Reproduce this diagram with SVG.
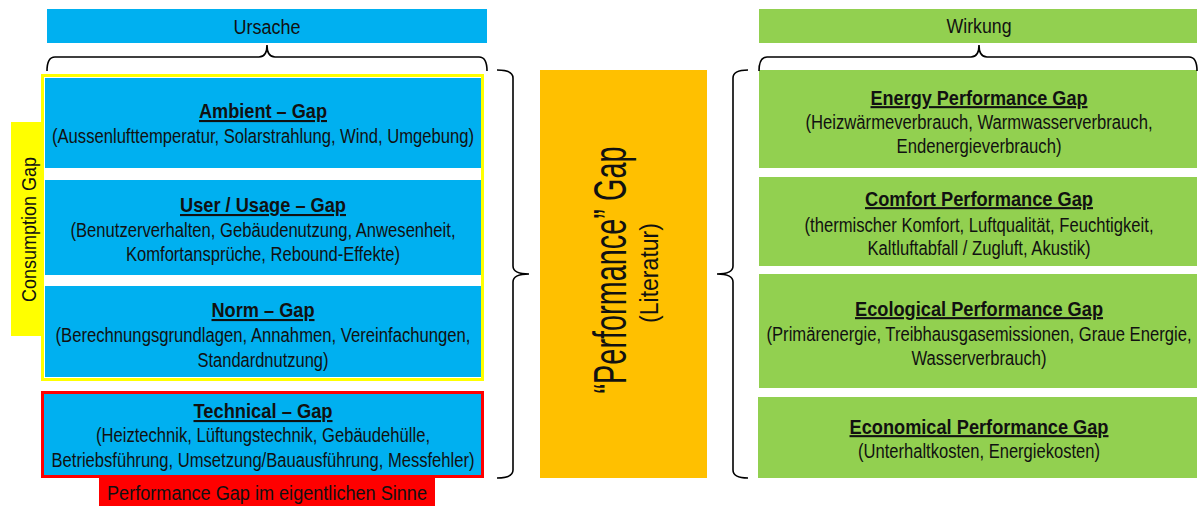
<svg xmlns="http://www.w3.org/2000/svg" width="1198" height="506" viewBox="0 0 1198 506">
<style>
text{font-family:"Liberation Sans",Arial,sans-serif;fill:#111;text-anchor:middle}
.t{font-size:21px;font-weight:bold;text-decoration:underline}
.s{font-size:20px}
.blue{fill:#00B0F0}
.green{fill:#92D050}
.brace{fill:none;stroke:#000;stroke-width:1.6}
</style>
<rect width="1198" height="506" fill="#fff"/>
<g id="ursache">
<rect class="blue" x="47" y="9" width="440" height="34"/>
<text class="s" x="267" y="34" textLength="67" lengthAdjust="spacingAndGlyphs">Ursache</text>
</g>
<g id="wirkung">
<rect class="green" x="759" y="9" width="438" height="34"/>
<text class="s" x="979" y="33" textLength="65" lengthAdjust="spacingAndGlyphs">Wirkung</text>
</g>
<g id="consumption-group">
<rect x="11" y="122" width="31" height="214" fill="#FFFF00"/>
<text transform="translate(36,229.5) rotate(-90)" textLength="145" lengthAdjust="spacingAndGlyphs" style="font-size:21px">Consumption Gap</text>
<rect x="42.5" y="75.5" width="440" height="304" fill="#fff" stroke="#FFFF00" stroke-width="3"/>
</g>
<g id="ambient">
<rect class="blue" x="45" y="78" width="436" height="90"/>
<text class="t" x="263" y="118" textLength="128" lengthAdjust="spacingAndGlyphs">Ambient – Gap</text>
<text class="s" x="263" y="143" textLength="422" lengthAdjust="spacingAndGlyphs">(Aussenlufttemperatur, Solarstrahlung, Wind, Umgebung)</text>
</g>
<g id="user">
<rect class="blue" x="45" y="180" width="436" height="95"/>
<text class="t" x="263" y="212" textLength="166" lengthAdjust="spacingAndGlyphs">User / Usage – Gap</text>
<text class="s" x="263" y="237" textLength="385" lengthAdjust="spacingAndGlyphs">(Benutzerverhalten, Gebäudenutzung, Anwesenheit,</text>
<text class="s" x="263" y="261" textLength="274" lengthAdjust="spacingAndGlyphs">Komfortansprüche, Rebound-Effekte)</text>
</g>
<g id="norm">
<rect class="blue" x="45" y="286" width="436" height="91"/>
<text class="t" x="263" y="317" textLength="103" lengthAdjust="spacingAndGlyphs">Norm – Gap</text>
<text class="s" x="263" y="342" textLength="415" lengthAdjust="spacingAndGlyphs">(Berechnungsgrundlagen, Annahmen, Vereinfachungen,</text>
<text class="s" x="263" y="367" textLength="131" lengthAdjust="spacingAndGlyphs">Standardnutzung)</text>
</g>
<g id="technical">
<rect class="blue" x="42.5" y="392.5" width="440" height="84" stroke="#FF0000" stroke-width="3"/>
<text class="t" x="263" y="418" textLength="139" lengthAdjust="spacingAndGlyphs">Technical – Gap</text>
<text class="s" x="263" y="442" textLength="334" lengthAdjust="spacingAndGlyphs">(Heiztechnik, Lüftungstechnik, Gebäudehülle,</text>
<text class="s" x="263" y="467" textLength="423" lengthAdjust="spacingAndGlyphs">Betriebsführung, Umsetzung/Bauausführung, Messfehler)</text>
</g>
<g id="performance-label">
<rect x="99" y="478" width="336" height="28" fill="#FF0000"/>
<text class="s" x="267" y="500" textLength="320" lengthAdjust="spacingAndGlyphs">Performance Gap im eigentlichen Sinne</text>
</g>
<g id="performance-gap">
<rect x="540" y="70" width="167" height="408" fill="#FFC000"/>
<text transform="translate(626,270) rotate(-90)" style="font-size:46px" textLength="247" lengthAdjust="spacingAndGlyphs">“Performance” Gap</text>
<text transform="translate(658,273) rotate(-90)" style="font-size:25px" textLength="100" lengthAdjust="spacingAndGlyphs">(Literatur)</text>
</g>
<g id="energy">
<rect class="green" x="759" y="70" width="438" height="98"/>
<g transform="translate(979,0) scale(0.8,1)">
<text class="t" x="0" y="105" textLength="271.25" lengthAdjust="spacingAndGlyphs">Energy Performance Gap</text>
<text class="s" x="0" y="129" textLength="433.75" lengthAdjust="spacingAndGlyphs">(Heizwärmeverbrauch, Warmwasserverbrauch,</text>
<text class="s" x="0" y="153" textLength="206.25" lengthAdjust="spacingAndGlyphs">Endenergieverbrauch)</text>
</g>
</g>
<g id="comfort">
<rect class="green" x="759" y="177" width="438" height="89"/>
<g transform="translate(979,0) scale(0.8,1)">
<text class="t" x="0" y="206" textLength="285" lengthAdjust="spacingAndGlyphs">Comfort Performance Gap</text>
<text class="s" x="0" y="232" textLength="436.25" lengthAdjust="spacingAndGlyphs">(thermischer Komfort, Luftqualität, Feuchtigkeit,</text>
<text class="s" x="0" y="255" textLength="278.75" lengthAdjust="spacingAndGlyphs">Kaltluftabfall / Zugluft, Akustik)</text>
</g>
</g>
<g id="ecological">
<rect class="green" x="759" y="274" width="438" height="114"/>
<g transform="translate(979,0) scale(0.8,1)">
<text class="t" x="0" y="316" textLength="310" lengthAdjust="spacingAndGlyphs">Ecological Performance Gap</text>
<text class="s" x="0" y="341" textLength="531.25" lengthAdjust="spacingAndGlyphs">(Primärenergie, Treibhausgasemissionen, Graue Energie,</text>
<text class="s" x="0" y="365" textLength="168.75" lengthAdjust="spacingAndGlyphs">Wasserverbrauch)</text>
</g>
</g>
<g id="economical">
<rect class="green" x="758" y="397" width="439" height="81"/>
<g transform="translate(979,0) scale(0.8,1)">
<text class="t" x="0" y="434" textLength="323.75" lengthAdjust="spacingAndGlyphs">Economical Performance Gap</text>
<text class="s" x="0" y="458" textLength="302.5" lengthAdjust="spacingAndGlyphs">(Unterhaltkosten, Energiekosten)</text>
</g>
</g>
<g id="connectors">
<path class="brace" d="M47,71 Q47,57 55,57 L259,57 Q267,57 267,45 Q267,57 275,57 L479,57 Q487,57 487,71"/>
<path class="brace" d="M759,71 Q759,57 767,57 L971,57 Q979,57 979,45 Q979,57 987,57 L1189,57 Q1197,57 1197,71"/>
<path class="brace" d="M497,70 Q513,70 513,78 L513,266 Q513,274 529,274 Q513,274 513,282 L513,470 Q513,478 497,478"/>
<path class="brace" d="M748,70 Q733,70 733,78 L733,266 Q733,274 717,274 Q733,274 733,282 L733,470 Q733,478 748,478"/>
</g>
</svg>
